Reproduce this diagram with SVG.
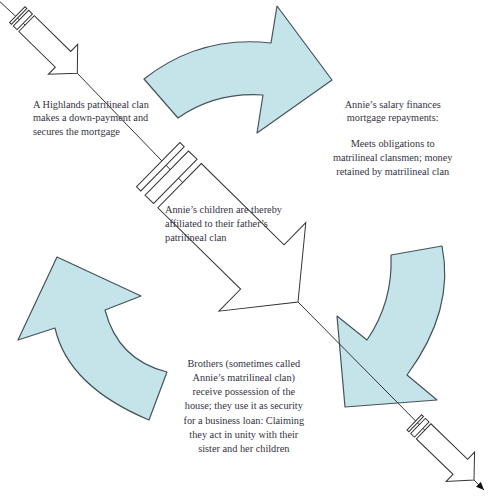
<svg xmlns="http://www.w3.org/2000/svg" width="488" height="497" viewBox="0 0 488 497">
<style>
.blue{fill:#c5e4e9;stroke:#45535a;stroke-width:1.2;stroke-linejoin:round}
.wa{fill:#ffffff;stroke:#333333;stroke-width:1;stroke-linejoin:miter}
.conn{fill:none;stroke:#333333;stroke-width:1}
text{font-family:"Liberation Serif","Times New Roman",serif;font-size:10.3px;fill:#333344}
.c{text-anchor:middle}
</style>
<defs>
<marker id="ah" markerWidth="9" markerHeight="7" refX="8" refY="3.5" orient="auto" markerUnits="userSpaceOnUse">
<path d="M0,0 L8,3.5 L0,7 Z" fill="#111111"/>
</marker>
</defs>
<rect width="488" height="497" fill="#ffffff"/>
<g id="cycle-arrow-top">
<path class="blue" d="M144,79 Q200,35 271,43 L277,6 L332,80 L257,133 L263,95 Q215,92 178,118 Z"/>
</g>
<g id="cycle-arrow-right">
<path class="blue" d="M391,255 L442,246 Q455,310 407,375 L437,400 L345,407 L337,316 L367,340 Q393,302 391,255 Z"/>
</g>
<g id="cycle-arrow-left">
<path class="blue" d="M57,257 L141,296 L105,310 Q118,360 167,372 L149,420 Q68,386 55,328 L18,340 Z"/>
</g>
<g id="connectors">
<path class="conn" d="M-3,-1 L77.3,73.3 L298,302 L474,480 L484,490" marker-end="url(#ah)"/>
</g>
<g id="striped-arrow-1" transform="translate(77.3,73.3) rotate(44.4)">
<rect class="wa" x="-84" y="-11" width="2.6" height="22"/>
<rect class="wa" x="-78.8" y="-11" width="5.2" height="22"/>
<path class="wa" d="M0,0 L-20,-21 L-20,-11 L-71,-11 L-71,11 L-20,11 L-20,21 Z"/>
</g>
<g id="striped-arrow-2" transform="translate(298,302) rotate(44.5)">
<rect class="wa" x="-196" y="-31" width="6" height="62"/>
<rect class="wa" x="-184" y="-31" width="12" height="62"/>
<path class="wa" d="M0,0 L-50,-62 L-50,-31 L-166,-31 L-166,31 L-50,31 L-50,62 Z"/>
</g>
<g id="striped-arrow-3" transform="translate(474,480) rotate(44)">
<rect class="wa" x="-83" y="-10.5" width="2.6" height="21"/>
<rect class="wa" x="-77.8" y="-10.5" width="5.2" height="21"/>
<path class="wa" d="M0,0 L-19,-20.5 L-19,-10.5 L-70,-10.5 L-70,10.5 L-19,10.5 L-19,20.5 Z"/>
</g>
<g id="label-highlands">
<text x="33" y="108">A Highlands patrilineal clan</text>
<text x="33" y="121.3">makes a down-payment and</text>
<text x="33" y="134.6">secures the mortgage</text>
</g>
<g id="label-salary">
<text class="c" x="392.7" y="108">Annie’s salary finances</text>
<text class="c" x="392.7" y="121.3">mortgage repayments:</text>
<text class="c" x="392.7" y="147.2">Meets obligations to</text>
<text class="c" x="392.7" y="160.5">matrilineal clansmen; money</text>
<text class="c" x="392.7" y="174.6">retained by matrilineal clan</text>
</g>
<g id="label-children">
<text x="165" y="213">Annie’s children are thereby</text>
<text x="165" y="227.2">affiliated to their father’s</text>
<text x="165" y="241.4">patrilineal clan</text>
</g>
<g id="label-brothers">
<text class="c" x="243.8" y="367">Brothers (sometimes called</text>
<text class="c" x="243.8" y="381">Annie’s matrilineal clan)</text>
<text class="c" x="243.8" y="395.3">receive possession of the</text>
<text class="c" x="243.8" y="409.4">house; they use it as security</text>
<text class="c" x="243.8" y="423.6">for a business loan: Claiming</text>
<text class="c" x="243.8" y="437.9">they act in unity with their</text>
<text class="c" x="243.8" y="452.2">sister and her children</text>
</g>
</svg>
